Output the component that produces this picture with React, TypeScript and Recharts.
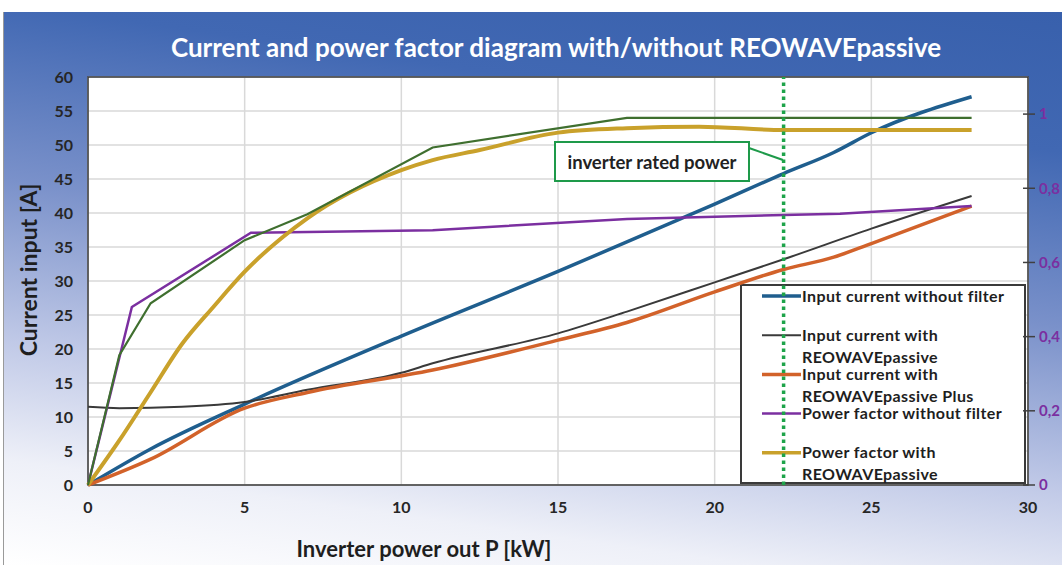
import React from "react";
import {
  CartesianGrid,
  Customized,
  Line,
  LineChart,
  ReferenceArea,
  ReferenceLine,
  XAxis,
  YAxis,
} from "recharts";

// inverter output power [kW] vs input current [A] / power factor
const powerTicks = [0, 5, 10, 15, 20, 25, 30];
const currentTicks = [0, 5, 10, 15, 20, 25, 30, 35, 40, 45, 50, 55, 60];
const pfTicks = [0, 0.2, 0.4, 0.6, 0.8, 1];
const ratedPower = 22.2;

const currentWithoutFilter = [
  { p: 0, a: 0 }, { p: 2, a: 5.3 }, { p: 5, a: 11.9 }, { p: 10, a: 21.9 },
  { p: 15, a: 31.4 }, { p: 20, a: 41.3 }, { p: 22.2, a: 45.8 }, { p: 23.8, a: 48.9 },
  { p: 25, a: 51.8 }, { p: 28.2, a: 57.1 },
];
const currentWithPassive = [
  { p: 0, a: 11.5 }, { p: 1, a: 11.3 }, { p: 3, a: 11.5 }, { p: 5, a: 12.2 },
  { p: 7, a: 14.0 }, { p: 10, a: 16.5 }, { p: 11, a: 17.9 }, { p: 15, a: 22.3 },
  { p: 17.2, a: 25.5 }, { p: 20, a: 29.8 }, { p: 22.2, a: 33.2 }, { p: 25, a: 37.7 },
  { p: 28.2, a: 42.5 },
];
const currentWithPassivePlus = [
  { p: 0, a: 0 }, { p: 2, a: 3.8 }, { p: 5, a: 11.3 }, { p: 7, a: 13.6 },
  { p: 11, a: 16.9 }, { p: 15, a: 21.3 }, { p: 17.2, a: 23.9 }, { p: 20, a: 28.4 },
  { p: 22.2, a: 31.7 }, { p: 23.8, a: 33.5 }, { p: 25, a: 35.5 }, { p: 28.2, a: 41.0 },
];
const pfWithoutFilter = [
  { p: 0, pf: 0 }, { p: 1.4, pf: 0.48 }, { p: 5.2, pf: 0.68 }, { p: 11, pf: 0.687 },
  { p: 17.2, pf: 0.717 }, { p: 22.2, pf: 0.728 }, { p: 24, pf: 0.731 }, { p: 28.2, pf: 0.752 },
];
const pfWithPassive = [
  { p: 0, pf: 0 }, { p: 1, pf: 0.12 }, { p: 2, pf: 0.25 }, { p: 3, pf: 0.38 },
  { p: 4, pf: 0.48 }, { p: 5, pf: 0.575 }, { p: 7, pf: 0.719 }, { p: 10, pf: 0.849 },
  { p: 11, pf: 0.876 }, { p: 12.5, pf: 0.903 }, { p: 15, pf: 0.95 }, { p: 17.2, pf: 0.962 },
  { p: 19.5, pf: 0.966 }, { p: 22.2, pf: 0.957 }, { p: 28.2, pf: 0.957 },
];
const pfWithPassivePlus = [
  { p: 0, pf: 0 }, { p: 1, pf: 0.35 }, { p: 2, pf: 0.49 }, { p: 5, pf: 0.66 },
  { p: 7, pf: 0.73 }, { p: 11, pf: 0.91 }, { p: 17.2, pf: 0.99 }, { p: 28.2, pf: 0.99 },
];

const legendItems = [
  { lines: ["Input current without filter"], color: "#1f5e8e", width: 3.5 },
  { lines: ["Input current with", "REOWAVEpassive"], color: "#3a3a3a", width: 2 },
  { lines: ["Input current with", "REOWAVEpassive Plus"], color: "#d2622a", width: 3.5 },
  { lines: ["Power factor without filter"], color: "#7b2fa0", width: 2.5 },
  { lines: ["Power factor with", "REOWAVEpassive"], color: "#c9a12b", width: 3.5 },
];

const font = "Lato, 'Open Sans', sans-serif";

function LegendBox() {
  const left = 741;
  const top = 285;
  return (
    <g>
      <rect x={left} y={top} width={284} height={198} fill="#fff" stroke="#3a3a3a" strokeWidth={2} />
      {legendItems.map((item, i) => {
        const y = top + 11 + i * 39.2;
        return (
          <g key={i}>
            <line x1={left + 21} x2={left + 60} y1={y} y2={y} stroke={item.color} strokeWidth={item.width} />
            <text x={left + 61} y={y} fontFamily={font} fontWeight={700} fontSize={16} letterSpacing={0.4} fill="#1e1e1e">
              {item.lines.map((l, j) => (
                <tspan key={j} x={left + 61} dy={j === 0 ? "0.35em" : 22}>
                  {l}
                </tspan>
              ))}
            </text>
          </g>
        );
      })}
      <rect x={555} y={142} width={194} height={39} fill="#fff" stroke="#1e9a4a" strokeWidth={2} />
      <text x={652} y={162} textAnchor="middle" dominantBaseline="central" fontFamily={font} fontWeight={700} fontSize={18.5} fill="#222">
        inverter rated power
      </text>
      <line x1={749} y1={148} x2={783} y2={160} stroke="#1e9a4a" strokeWidth={2} />
    </g>
  );
}

function RightTick(props: any) {
  const { x, y, payload } = props;
  return (
    <g>
      <line x1={x - 16} x2={x - 4} y1={y} y2={y} stroke="#404040" strokeWidth={1.5} />
      <text x={x} y={y} dy="0.35em" fontFamily={font} fontWeight={700} fontSize={15} fill="#7b2fa0">
        {String(payload.value).replace(".", ",")}
      </text>
    </g>
  );
}

export default function App() {
  const tickStyle = { fontFamily: font, fontWeight: 700, fontSize: 16, fill: "#262626" };
  return (
    <div style={{ position: "absolute", left: 0, top: 0, width: 1062, height: 565, overflow: "hidden", background: "#fff" }}>
      <div
        style={{
          position: "absolute",
          left: 3,
          top: 12,
          right: 0,
          bottom: 0,
          borderLeft: "1px solid #9a9a9a",
          background: "linear-gradient(188deg, #3860ac 0%, #4168b3 20%, #7a91ca 45%, #c0c9e7 68%, #eef0f8 85%, #ffffff 100%)",
        }}
      />
      <div
        style={{
          position: "absolute",
          left: 0,
          width: 1112,
          top: 31,
          textAlign: "center",
          color: "#fff",
          fontFamily: font,
          fontWeight: 700,
          fontSize: 26,
        }}
      >
        Current and power factor diagram with/without REOWAVEpassive
      </div>
      <div style={{ position: "absolute", left: 0, top: 0 }}>
        <LineChart width={1062} height={565} margin={{ top: 77, right: 0, bottom: 40, left: 28 }}>
          <CartesianGrid stroke="#d9d9d9" strokeWidth={1.5} fill="#fff" yAxisId="left" />
          <XAxis
            type="number"
            dataKey="p"
            domain={[0, 30]}
            ticks={powerTicks}
            allowDuplicatedCategory={false}
            axisLine={false}
            tickLine={false}
            tickSize={0}
            tickMargin={17}
            height={40}
            tick={tickStyle}
            label={{
              content: () => (
                <text x={424} y={548} textAnchor="middle" dominantBaseline="central" fontFamily={font} fontWeight={700} fontSize={22} fill="#1e1e1e">
                  Inverter power out P [kW]
                </text>
              ),
            }}
          />
          <YAxis
            yAxisId="left"
            domain={[0, 60]}
            ticks={currentTicks}
            axisLine={false}
            tickLine={false}
            tickSize={0}
            tickMargin={15}
            width={60}
            tick={tickStyle}
            label={{
              content: () => (
                <text
                  x={28}
                  y={270}
                  transform="rotate(-90 28 270)"
                  textAnchor="middle"
                  dominantBaseline="central"
                  fontFamily={font}
                  fontWeight={700}
                  fontSize={23}
                  fill="#1e1e1e"
                >
                  Current input [A]
                </text>
              ),
            }}
          />
          <YAxis
            yAxisId="right"
            orientation="right"
            domain={[0, 1.1]}
            ticks={pfTicks}
            axisLine={false}
            tickLine={false}
            tickSize={0}
            tickMargin={11}
            width={34}
            tick={<RightTick />}
          />
          <Line yAxisId="left" data={currentWithoutFilter} dataKey="a" type="monotone" stroke="#1f5e8e" strokeWidth={3.5} dot={false} isAnimationActive={false} />
          <Line yAxisId="left" data={currentWithPassive} dataKey="a" type="monotone" stroke="#3a3a3a" strokeWidth={2} dot={false} isAnimationActive={false} />
          <Line yAxisId="left" data={currentWithPassivePlus} dataKey="a" type="monotone" stroke="#d2622a" strokeWidth={3.5} dot={false} isAnimationActive={false} />
          <Line yAxisId="right" data={pfWithoutFilter} dataKey="pf" type="linear" stroke="#7b2fa0" strokeWidth={2.5} dot={false} isAnimationActive={false} />
          <Line yAxisId="right" data={pfWithPassive} dataKey="pf" type="monotone" stroke="#c9a12b" strokeWidth={4} dot={false} isAnimationActive={false} />
          <Line yAxisId="right" data={pfWithPassivePlus} dataKey="pf" type="linear" stroke="#3f6f2f" strokeWidth={2.2} dot={false} isAnimationActive={false} />
          <ReferenceArea yAxisId="left" x1={0} x2={30} y1={0} y2={60} fill="none" stroke="#3a3a3a" strokeWidth={1.5} ifOverflow="visible" />
          <Customized component={LegendBox} />
          <ReferenceLine yAxisId="left" x={ratedPower} stroke="#1ea34a" strokeWidth={3.5} strokeDasharray="3.5 3.5" />
        </LineChart>
      </div>
    </div>
  );
}
